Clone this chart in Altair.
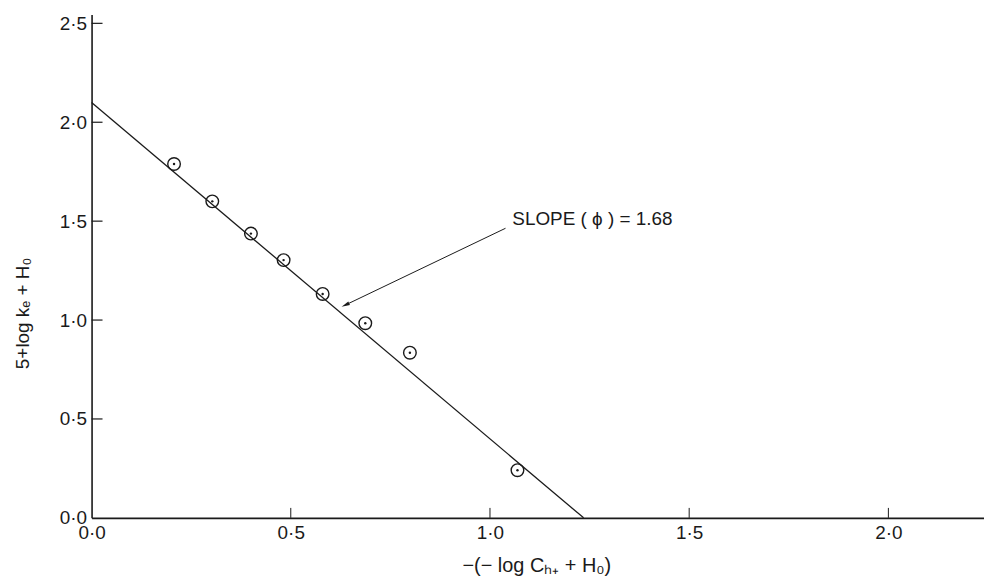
import altair as alt
import pandas as pd

# ---- data ----
x_obs = [0.207, 0.303, 0.400, 0.482, 0.580, 0.687, 0.799, 1.069]
y_obs = [1.789, 1.600, 1.437, 1.303, 1.132, 0.984, 0.835, 0.241]
fit_x = [0.0, 1.235]
fit_y = [2.10, 0.0]
x_ticks = [0.5, 1.0, 1.5, 2.0]
y_ticks = [0.5, 1.0, 1.5, 2.0, 2.5]
arrow_x = [1.039, 0.637]
arrow_y = [1.464, 1.076]
note_x = [1.056]
note_y = [1.479]
note_text = ["SLOPE ( \u03d5 ) = 1.68"]

W, H = 897, 506
FONT = "Liberation Sans"
INK = "#1a1a1a"

obs = pd.DataFrame({"x": x_obs, "y": y_obs})
fit = pd.DataFrame({"x": fit_x, "y": fit_y})
xt = pd.DataFrame({"t": x_ticks})
yt = pd.DataFrame({"t": y_ticks})
arr = pd.DataFrame({"x": [arrow_x[0]], "y": [arrow_y[0]], "x2": [arrow_x[1]], "y2": [arrow_y[1]]})
head = pd.DataFrame({"x": [arrow_x[1]], "y": [arrow_y[1]]})
note = pd.DataFrame({"x": note_x, "y": note_y, "t": note_text})

lab = "replace(format(datum.value, '.1f'), '.', '\u00b7')"

xs = alt.Scale(domain=[0, 2.24], nice=False, zero=False)
ys = alt.Scale(domain=[0, 2.545], nice=False, zero=False)

xaxis = alt.Axis(values=[0, 0.5, 1.0, 1.5, 2.0], labelExpr=lab, ticks=False, grid=False,
                 domainColor=INK, domainWidth=1.6, labelFont=FONT, labelFontSize=19,
                 labelColor=INK, labelPadding=6, labelFlush=False,
                 title="\u2212(\u2212 log C\u2095\u208a + H\u2080)", titleFont=FONT, titleFontSize=20,
                 titleFontWeight="normal", titleColor=INK, titleX=447, titleY=54,
                 titleBaseline="alphabetic", titleAnchor="middle")
yaxis = alt.Axis(values=[0, 0.5, 1.0, 1.5, 2.0, 2.5], labelExpr=lab, ticks=False, grid=False,
                 domainColor=INK, domainWidth=1.6, labelFont=FONT, labelFontSize=19,
                 labelColor=INK, labelPadding=5, labelFlush=False,
                 title="5+log k\u2091 + H\u2080", titleFont=FONT, titleFontSize=19,
                 titleFontWeight="normal", titleColor=INK, titleX=-69, titleY=300,
                 titleBaseline="middle", titleAngle=270, titleAnchor="middle")

base_x = alt.X("x:Q", scale=xs, axis=xaxis)
base_y = alt.Y("y:Q", scale=ys, axis=yaxis)

line = alt.Chart(fit).mark_line(color=INK, strokeWidth=1.3).encode(x=base_x, y=base_y)

circles = alt.Chart(obs).mark_point(shape="circle", filled=False, color=INK, size=160,
                                    strokeWidth=1.4, opacity=1).encode(
    x=alt.X("x:Q", scale=xs), y=alt.Y("y:Q", scale=ys))
dots = alt.Chart(obs).mark_point(shape="circle", filled=True, color=INK, size=6,
                                 opacity=1).encode(
    x=alt.X("x:Q", scale=xs), y=alt.Y("y:Q", scale=ys))

xtick = alt.Chart(xt).mark_rule(color=INK, strokeWidth=1.0).encode(
    x=alt.X("t:Q", scale=xs), y=alt.value(H), y2=alt.value(H - 10))
ytick = alt.Chart(yt).mark_rule(color=INK, strokeWidth=1.2).encode(
    y=alt.Y("t:Q", scale=ys), x=alt.value(0), x2=alt.value(11))

arrow = alt.Chart(arr).mark_rule(color=INK, strokeWidth=1.0).encode(
    x=alt.X("x:Q", scale=xs), y=alt.Y("y:Q", scale=ys),
    x2="x2:Q", y2="y2:Q")
arrowhead = alt.Chart(head).mark_point(shape="M0,-1L-0.45,1L0.45,1Z", filled=True, color=INK,
                                       size=70, angle=244.5, opacity=1).encode(
    x=alt.X("x:Q", scale=xs), y=alt.Y("y:Q", scale=ys))

text = alt.Chart(note).mark_text(align="left", baseline="alphabetic", font=FONT, fontSize=19,
                                 color=INK).encode(
    x=alt.X("x:Q", scale=xs), y=alt.Y("y:Q", scale=ys), text="t:N")

chart = alt.layer(line, xtick, ytick, arrow, arrowhead, circles, dots, text).properties(
    width=W, height=H,
    autosize=alt.AutoSizeParams(type="none"),
    padding={"left": 84, "top": 5, "right": 0, "bottom": 64},
    background="white",
).configure_view(stroke=None)

chart.save("out.html", embed_options={"renderer": "svg", "actions": False})
